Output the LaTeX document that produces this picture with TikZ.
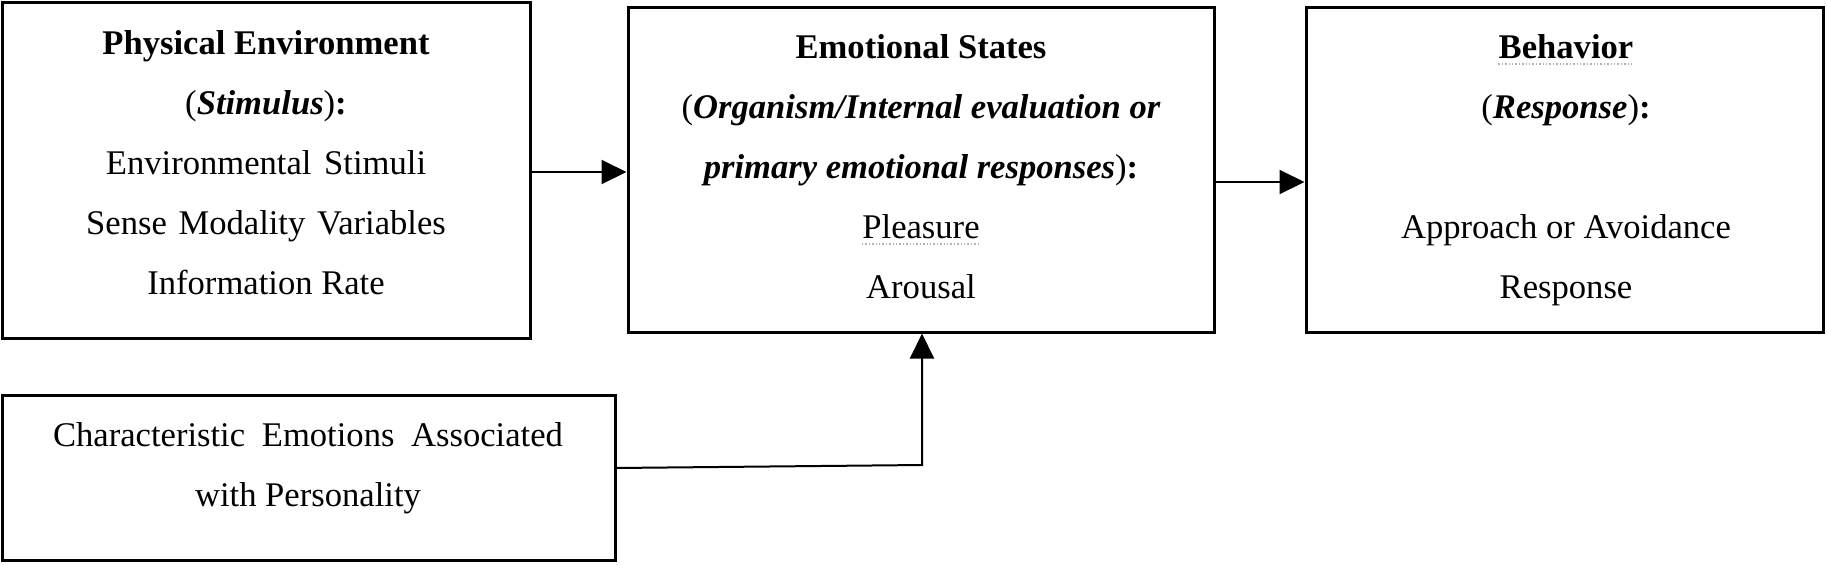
\documentclass[tikz,border=0pt]{standalone}
\usepackage{fontspec}
\setmainfont{Liberation Serif}
\usetikzlibrary{arrows.meta}
\begin{document}
\begin{tikzpicture}[x=0.5pt,y=-0.5pt,
  box/.style={draw, line width=1.5pt, inner sep=0pt},
  txt/.style={inner sep=0pt, anchor=base, font=\fontsize{17.3}{20}\selectfont},
  conn/.style={line width=1pt, -{Triangle[length=12.5pt,width=12pt]}},
  spell/.style={gray!60, densely dotted, line width=0.7pt}]
\useasboundingbox (0,0) rectangle (1827,564);
% boxes
\node[box, minimum width=264pt, minimum height=168pt] (b1) at (266,170) {};
\node[box, minimum width=293pt, minimum height=162.5pt] (b2) at (921,169.5) {};
\node[box, minimum width=258.5pt, minimum height=162.5pt] (b3) at (1564.5,169.5) {};
\node[box, minimum width=306.5pt, minimum height=82.5pt] (b4) at (308.5,477.5) {};
% box 1 text
\node[txt] (t11) at (266,54) {\bfseries Physical Environment};
\node[txt] (t12) at (266,114) {({\bfseries\itshape Stimulus})\textbf{:}};
\node[txt] (t13) at (266,174) {Environmental\hspace{2pt} Stimuli};
\node[txt] (t14) at (266,234) {Sense\hspace{1.5pt} Modality\hspace{1.5pt} Variables};
\node[txt] (t15) at (266,294) {Information Rate};
% box 2 text
\node[txt] (t21) at (921,58) {\bfseries Emotional States};
\node[txt] (t22) at (921,118) {({\bfseries\itshape Organism/Internal evaluation or}};
\node[txt] (t23) at (921,178) {{\bfseries\itshape primary emotional responses})\textbf{:}};
\node[txt] (t24) at (921,238) {Pleasure};
\node[txt] (t25) at (921,298) {Arousal};
% box 3 text
\node[txt] (t31) at (1566,58) {\bfseries Behavior};
\node[txt] (t32) at (1566,118) {({\bfseries\itshape Response})\textbf{:}};
\node[txt] (t33) at (1566,238) {Approach or Avoidance};
\node[txt] (t34) at (1566,298) {Response};
% box 4 text
\node[txt] (t41) at (308,446) {Characteristic\hspace{4pt} Emotions\hspace{4pt} Associated};
\node[txt] (t42) at (308,506) {with Personality};
% spell-check underlines
\draw[spell] ([yshift=-3pt]t24.base west) -- ([yshift=-3pt]t24.base east);
\draw[spell] ([yshift=-3pt]t31.base west) -- ([yshift=-3pt]t31.base east);
% connectors
\coordinate (a1) at (0,172);
\coordinate (a2) at (0,182);
\coordinate (c4) at (615,468);
\coordinate (k) at (922,465);
\draw[conn] (b1.east |- a1) -- (b2.west |- a1);
\draw[conn] (b2.east |- a2) -- (b3.west |- a2);
\draw[conn] (c4) -- (k) -- (k |- b2.south);
\end{tikzpicture}
\end{document}
